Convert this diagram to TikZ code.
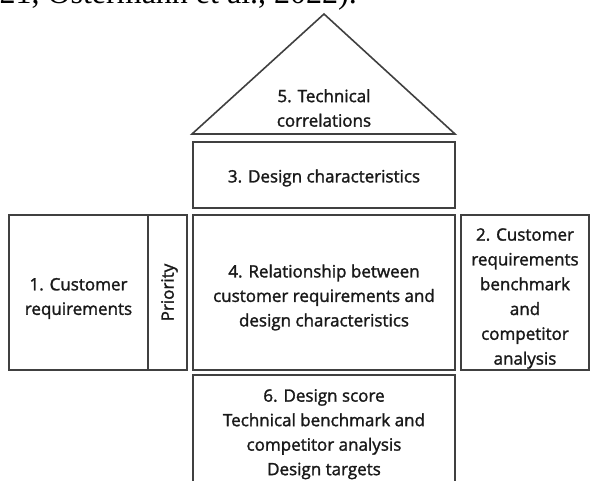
\documentclass[tikz,border=0pt]{standalone}
\usepackage{fontspec}
\setmainfont{Open Sans}
\newfontfamily\boxfont{Open Sans}[FakeBold=1.6]
\newfontfamily\citefont{Liberation Serif}
\usetikzlibrary{positioning}

\tikzset{
  cell/.style={draw=black!75, line width=1.6pt, outer sep=0pt, inner sep=0pt},
  label text/.style={align=center, inner sep=0pt, text=black!90,
    font=\boxfont\fontsize{17}{24.5}\selectfont}
}

\begin{document}
\begin{tikzpicture}[x=1pt,y=-1pt]
          % Page frame
          \useasboundingbox (0,0) rectangle (590,481);
          \clip (0,0) rectangle (590,481);
          % Citation line cut at the top
          \node[anchor=base east, inner sep=0pt, font=\citefont\fontsize{32}{36}\selectfont] (cite) at (357,4) {21, Ostermann et al., 2022).};
          % Middle row
          \node[cell, minimum width=139, minimum height=155] (cust) at (78.5,292.5) {};
          \node[cell, minimum width=39, minimum height=155, right=0pt of cust] (prio) {};
          \node[cell, minimum width=262, minimum height=155, right=6pt of prio] (rel) {};
          \node[cell, minimum width=128, minimum height=155, right=6pt of rel] (bench) {};
          % Top and bottom of the column
          \node[cell, minimum width=262, minimum height=66, above=7pt of rel] (design) {};
          \node[cell, minimum width=262, minimum height=130, below=5pt of rel] (score) {};
          % Roof
          \coordinate (apex) at (324,14);
          \coordinate (roofL) at ([xshift=-1pt,yshift=8pt]design.north west);
          \coordinate (roofR) at ([yshift=8pt]design.north east);
          \draw[draw=black!75, line width=1.6pt, line join=miter] (roofL) -- (apex) -- (roofR) -- cycle;
          % Texts
          \node[label text] (roof) at (324,108) {5. Technical\\correlations};
          \node[label text] (designtext) at ([yshift=-3pt]design.center) {3. Design characteristics};
          \node[label text] (custtext) at ([yshift=-6pt]cust.center) {1. Customer\\requirements};
          \node[label text, rotate=90] (priotext) at ([xshift=2pt]prio.center) {Priority};
          \node[label text] (reltext) at ([yshift=-5pt]rel.center) {4. Relationship between\\customer requirements and\\design characteristics};
          \node[label text, font=\boxfont\fontsize{17}{24.8}\selectfont] (benchtext) at ([yshift=-6pt]bench.center) {2. Customer\\requirements\\benchmark\\and\\competitor\\analysis};
          \node[label text, anchor=north] (scoretext) at ([yshift=-14pt]score.north) {6. Design score\\Technical benchmark and\\competitor analysis\\Design targets};
        \end{tikzpicture}
\end{document}
